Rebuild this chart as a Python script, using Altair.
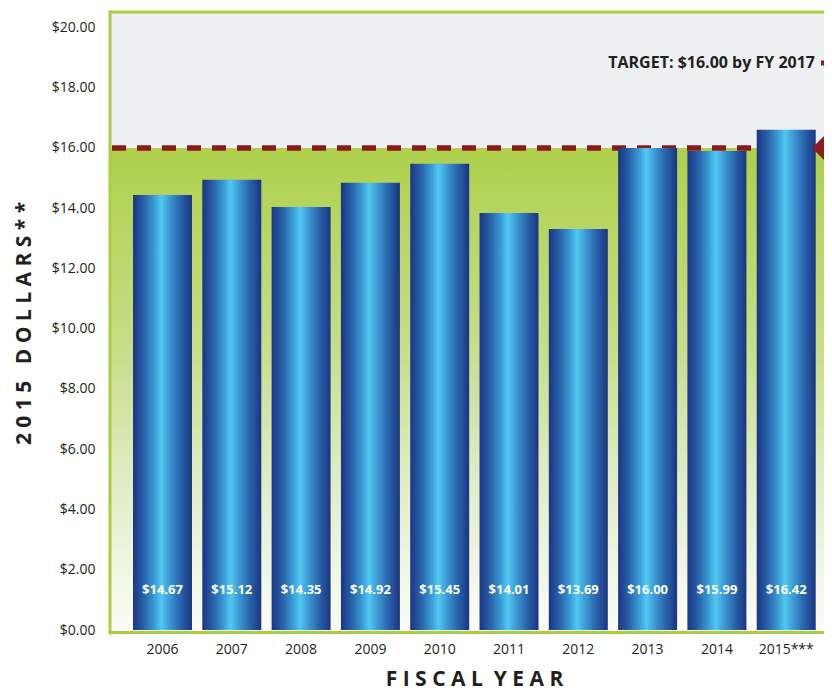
import altair as alt
import pandas as pd

# ---- data ----
years = ["2006", "2007", "2008", "2009", "2010", "2011", "2012", "2013", "2014", "2015***"]
bar_heights = [14.44, 14.94, 14.04, 14.84, 15.47, 13.84, 13.31, 16.00, 15.90, 16.60]
bar_labels = ["$14.67", "$15.12", "$14.35", "$14.92", "$15.45", "$14.01", "$13.69", "$16.00", "$15.99", "$16.42"]
y_ticks = [0, 2, 4, 6, 8, 10, 12, 14, 16, 18, 20]
target_value = [16.0]
target_text = ["TARGET: $16.00 by FY 2017"]
y_title = "2 0 1 5\u00a0\u00a0 D O L L A R S * *"
x_title = "F I S C A L\u00a0 Y E A R"

# ---- layout constants ----
W = 714
H = 621
ZERO_PX = 618
Y_MAX = 20.51
FONT = "Open Sans"
INK = "#231f20"
GREEN = "#a8cf3c"
RED = "#8b1a1c"

df = pd.DataFrame({"year": years, "value": bar_heights, "label": bar_labels})
tgt = pd.DataFrame({"target": target_value, "text": target_text})

x_scale = alt.Scale(paddingInner=0.149, paddingOuter=0.226, align=0.735)
y_scale = alt.Scale(domain=[0, Y_MAX], range=[ZERO_PX, 0], nice=False, zero=True)

y_axis = alt.Axis(
    values=y_ticks, format="$,.2f", title=y_title,
    labelFont=FONT, labelFontSize=14, labelColor=INK, labelPadding=15,
    titleFont=FONT, titleFontSize=21, titleFontWeight="bold", titleColor=INK,
    titleAngle=-90, titleX=-86, titleY=311, titleAlign="center", titleBaseline="middle",
)
x_axis = alt.Axis(
    title=x_title, labelAngle=0, labelFont=FONT, labelFontSize=14, labelColor=INK,
    labelPadding=9,
    titleFont=FONT, titleFontSize=21, titleFontWeight="bold", titleColor=INK,
    titleX=364, titleY=46, titleAlign="center", titleBaseline="middle",
)

bar_gradient = alt.LinearGradient(
    gradient="linear", x1=0, x2=1, y1=0, y2=0,
    stops=[
        alt.GradientStop(color="#1a3584", offset=0),
        alt.GradientStop(color="#2a66ad", offset=0.2),
        alt.GradientStop(color="#3a9bd6", offset=0.36),
        alt.GradientStop(color="#50c9f1", offset=0.48),
        alt.GradientStop(color="#3b93cf", offset=0.64),
        alt.GradientStop(color="#2660a8", offset=0.82),
        alt.GradientStop(color="#1b3582", offset=1),
    ],
)
green_gradient = alt.LinearGradient(
    gradient="linear", x1=0, x2=0, y1=0, y2=1,
    stops=[
        alt.GradientStop(color="#aed04a", offset=0),
        alt.GradientStop(color="#c6dd85", offset=0.4),
        alt.GradientStop(color="#e4eecb", offset=0.72),
        alt.GradientStop(color="#fbfcf6", offset=1),
    ],
)

green = alt.Chart(tgt).mark_rect(color=green_gradient).encode(
    x=alt.value(0), x2=alt.value(W),
    y=alt.Y("target:Q", scale=y_scale, axis=y_axis), y2=alt.datum(0),
)
gray = alt.Chart(tgt).mark_rect(color="#eff0f2").encode(
    x=alt.value(0), x2=alt.value(W),
    y=alt.Y("target:Q", scale=y_scale, axis=y_axis), y2=alt.datum(Y_MAX),
)
dash = alt.Chart(tgt).mark_rule(color=RED, strokeWidth=5.5, strokeDash=[14, 11]).encode(
    x=alt.value(2), x2=alt.value(W),
    y=alt.Y("target:Q", scale=y_scale, axis=y_axis),
)
bars = alt.Chart(df).mark_bar(color=bar_gradient).encode(
    x=alt.X("year:N", sort=years, scale=x_scale, axis=x_axis),
    y=alt.Y("value:Q", scale=y_scale, axis=y_axis),
)
labels = alt.Chart(df).mark_text(
    color="white", font=FONT, fontWeight="bold", fontSize=13, baseline="middle"
).encode(
    x=alt.X("year:N", sort=years, scale=x_scale, axis=x_axis),
    y=alt.value(578),
    text="label:N",
)
target_label = alt.Chart(tgt).mark_text(
    align="right", baseline="middle", font=FONT, fontWeight="bold", fontSize=16, color=INK
).encode(x=alt.value(705), y=alt.value(51), text="text:N")
marker = alt.Chart(tgt).mark_rule(color=RED, strokeWidth=5).encode(
    x=alt.value(711), x2=alt.value(724), y=alt.value(51)
)
triangle = alt.Chart(tgt).mark_point(
    shape="M -1 0 L 0 -1 L 0 1 Z", filled=True, opacity=1, color="#8e1b1e", size=1600, strokeWidth=0
).encode(
    x=alt.value(W + 8),
    y=alt.Y("target:Q", scale=y_scale, axis=y_axis),
)
left_border = alt.Chart(tgt).mark_rule(color=GREEN, strokeWidth=3).encode(
    x=alt.value(0), y=alt.value(-1.5), y2=alt.value(H + 1.5)
)
top_border = alt.Chart(tgt).mark_rule(color=GREEN, strokeWidth=3).encode(
    x=alt.value(0), x2=alt.value(W), y=alt.value(0)
)
bottom_border = alt.Chart(tgt).mark_rule(color=GREEN, strokeWidth=3).encode(
    x=alt.value(0), x2=alt.value(W), y=alt.value(H - 0.5)
)

chart = alt.layer(
    green, gray, dash, bars, labels, target_label, marker, triangle,
    left_border, top_border, bottom_border,
).properties(
    width=W, height=H,
    autosize=alt.AutoSizeParams(type="none"),
    padding={"left": 102, "top": 4, "right": 0, "bottom": 59},
    background="white",
).configure_view(stroke=None).configure_axis(grid=False, domain=False, ticks=False)

chart.save("out.html", embed_options={"renderer": "svg", "actions": False})
